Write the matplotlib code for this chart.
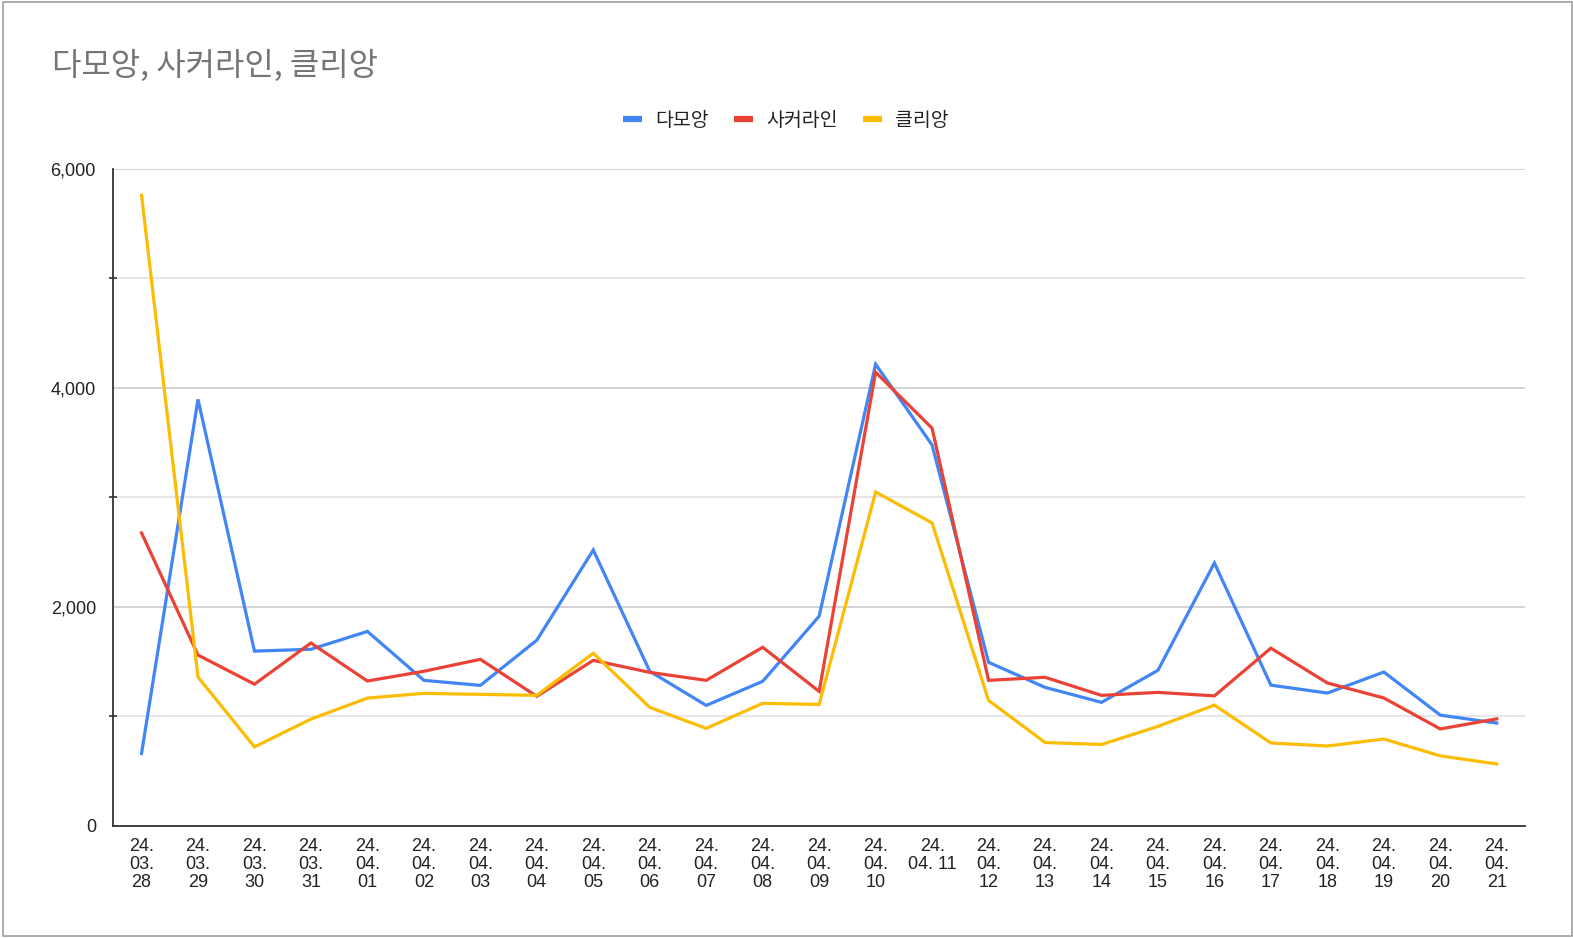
import matplotlib
matplotlib.use("Agg")
import matplotlib.pyplot as plt
from matplotlib.patches import Rectangle
from matplotlib.ticker import MultipleLocator, FuncFormatter

plt.rcParams['font.family'] = ['Liberation Sans', 'Noto Sans CJK KR']

# 날짜 라벨 (24.04.11 만 두 줄로 표시됨)
dates = ["24.\n03.\n28", "24.\n03.\n29", "24.\n03.\n30", "24.\n03.\n31",
         "24.\n04.\n01", "24.\n04.\n02", "24.\n04.\n03", "24.\n04.\n04",
         "24.\n04.\n05", "24.\n04.\n06", "24.\n04.\n07", "24.\n04.\n08",
         "24.\n04.\n09", "24.\n04.\n10", "24.\n04. 11", "24.\n04.\n12",
         "24.\n04.\n13", "24.\n04.\n14", "24.\n04.\n15", "24.\n04.\n16",
         "24.\n04.\n17", "24.\n04.\n18", "24.\n04.\n19", "24.\n04.\n20",
         "24.\n04.\n21"]

damoang = [660, 3895, 1595, 1612, 1775, 1328, 1282, 1695, 2519, 1411, 1099, 1319,
           1914, 4216, 3478, 1493, 1264, 1127, 1420, 2400, 1284, 1212, 1404, 1010, 938]
soccerline = [2675, 1559, 1293, 1669, 1322, 1411, 1520, 1182, 1511, 1401, 1328, 1630,
              1227, 4143, 3632, 1328, 1356, 1191, 1218, 1186, 1622, 1304, 1167, 884, 976]
clien = [5760, 1358, 720, 974, 1166, 1209, 1200, 1191, 1576, 1081, 889, 1118,
         1108, 3049, 2766, 1145, 760, 742, 907, 1102, 756, 728, 792, 638, 564]

series = [("다모앙", damoang, "#4285F4"),
          ("사커라인", soccerline, "#EA4335"),
          ("클리앙", clien, "#FBBC04")]

fig = plt.figure(figsize=(15.73, 9.38), dpi=100)
ax = fig.add_axes([113.3 / 1573, 112.3 / 938, 1411.7 / 1573, 656.7 / 938])

x = list(range(len(dates)))
for name, vals, col in series:
    ax.plot(x, vals, color=col, linewidth=2.3, label=name,
            solid_joinstyle='miter')

ax.set_xlim(-0.5, len(dates) - 0.5)
ax.set_ylim(0, 6000)
ax.set_xticks(x)
ax.set_xticklabels(dates, fontsize=13, color='#222222', linespacing=1.1)
ax.tick_params(axis='x', length=0, pad=8.5)

ax.yaxis.set_major_locator(MultipleLocator(2000))
ax.yaxis.set_minor_locator(MultipleLocator(1000))
ax.yaxis.set_major_formatter(FuncFormatter(lambda v, p: f"{int(v):,}"))
ax.tick_params(axis='y', which='major', length=0, pad=12.5, labelsize=13,
               labelcolor='#222222')
ax.tick_params(axis='y', which='minor', length=6, width=1.2,
               direction='inout', color='#333333')

ax.grid(True, axis='y', which='major', color='#cccccc', linewidth=1.2)
ax.grid(True, axis='y', which='minor', color='#e3e3e3', linewidth=1.2)
ax.set_axisbelow(True)

for s in ['top', 'right']:
    ax.spines[s].set_visible(False)
ax.spines['left'].set_color('#333333')
ax.spines['bottom'].set_color('#333333')
ax.spines['left'].set_linewidth(1.3)
ax.spines['bottom'].set_linewidth(1.3)

fig.text(52.5 / 1573, 1 - 66 / 938, "다모앙, 사커라인, 클리앙",
         fontsize=23, color='#757575', va='center', ha='left',
         family='Noto Sans CJK KR')

leg = fig.legend(loc='center', bbox_to_anchor=(786 / 1573, 1 - 120 / 938),
                 ncol=3, frameon=False, handlelength=0.95, handletextpad=0.7,
                 columnspacing=1.3, prop={'family': 'Noto Sans CJK KR', 'size': 14})
for h in leg.get_lines():
    h.set_linewidth(4.5)
    h.set_solid_capstyle('butt')
for t in leg.get_texts():
    t.set_color('#222222')

# 차트 테두리
fig.patches.append(Rectangle((2.5 / 1573, 1.7 / 938), 1569.8 / 1573, 933.8 / 938,
                             transform=fig.transFigure, fill=False,
                             edgecolor='#9e9e9e', linewidth=1.2))

fig.savefig("out.png", dpi=100)
